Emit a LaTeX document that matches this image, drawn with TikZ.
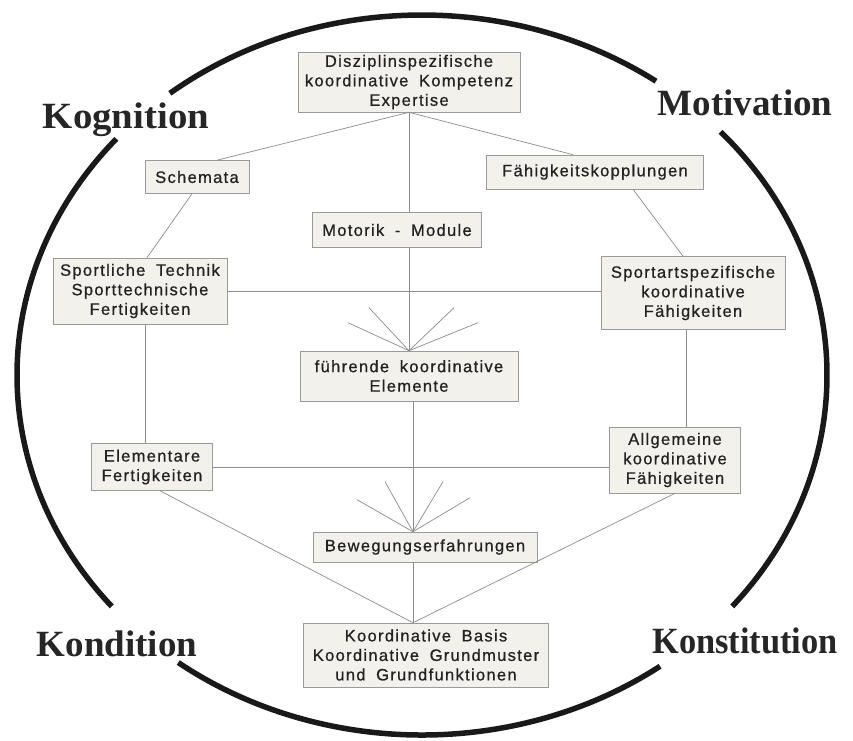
\documentclass[tikz,border=0pt]{standalone}
\usepackage{graphicx}
\usepackage{fontspec}
\newfontfamily\boxfont[LetterSpace=8,WordSpace=1.8,FakeBold=0.7]{Liberation Sans}
\newfontfamily\labfont{Liberation Serif}
\usetikzlibrary{calc}
\definecolor{boxfill}{HTML}{F3F1EC}
\definecolor{boxline}{HTML}{9A9A9A}
\definecolor{ink}{HTML}{222222}
\definecolor{connc}{HTML}{8C8C8C}
\begin{document}
\begin{tikzpicture}[x=1pt,y=-1pt,
 box/.style={draw=boxline, line width=0.6pt, fill=boxfill, inner sep=0pt, align=center,
   font=\boxfont\fontsize{16.5}{19.5}\selectfont, text=ink},
 conn/.style={draw=connc, line width=0.7pt},
 circ/.style={draw=black!90, line width=5.5pt},
 lab/.style={font=\labfont\bfseries\fontsize{37}{40}\selectfont, text=black!85, anchor=base, inner sep=0pt}]
\useasboundingbox[fill=white] (0,0) rectangle (853,740);

% outer circle
\coordinate (cc) at (422,375);
\draw[circ] (cc) ++(128.5:405pt and 360pt) arc[start angle=128.5,end angle=54.7,x radius=405pt,y radius=360pt];
\draw[circ] (cc) ++(139:405pt and 360pt) arc[start angle=139,end angle=220,x radius=405pt,y radius=360pt];
\draw[circ] (cc) ++(233:405pt and 360pt) arc[start angle=233,end angle=306,x radius=405pt,y radius=360pt];
\draw[circ] (cc) ++(-40:405pt and 360pt) arc[start angle=-40,end angle=42.5,x radius=405pt,y radius=360pt];

% labels
\node[lab] (kog) at (126,128) {\scalebox{1.05}[1]{Kognition}};
\node[lab] (mot) at (745,115) {Motivation};
\node[lab] (kond) at (117,656) {Kondition};
\node[lab] (konst) at (745,653) {\scalebox{0.93}[1]{Konstitution}};

% boxes
\node[box, minimum width=222pt, minimum height=60pt] (top) at (409,82) {Disziplinspezifische\\koordinative Kompetenz\\Expertise};
\node[box, minimum width=104pt, minimum height=33pt] (schem) at (197,177) {Schemata};
\node[box, minimum width=217pt, minimum height=34pt] (kopp) at (595,172) {Fähigkeitskopplungen};
\node[box, minimum width=169pt, minimum height=35pt] (motor) at (397,230) {Motorik - Module};
\node[box, minimum width=174pt, minimum height=66pt] (sport) at (140,291) {Sportliche Technik\\Sporttechnische\\Fertigkeiten};
\node[box, minimum width=184pt, minimum height=73pt] (sart) at (693,293) {Sportartspezifische\\koordinative\\Fähigkeiten};
\node[box, minimum width=218pt, minimum height=50pt] (fuehr) at (409,376) {führende koordinative\\Elemente};
\node[box, minimum width=121pt, minimum height=47pt] (elem) at (152,467) {Elementare\\Fertigkeiten};
\node[box, minimum width=131pt, minimum height=66pt] (allg) at (675,460) {Allgemeine\\koordinative\\Fähigkeiten};
\node[box, minimum width=224pt, minimum height=30pt] (bew) at (425,547) {Bewegungserfahrungen};
\node[box, minimum width=245pt, minimum height=64pt] (basis) at (426,655) {Koordinative Basis\\Koordinative Grundmuster\\und Grundfunktionen};

% helper coordinates
\coordinate (bap) at ([xshift=-12pt]bew.north);
\coordinate (kap) at (bap |- basis.north);
\coordinate (fa1) at ($(fuehr.north)+(-61,-28)$);
\coordinate (fa2) at ($(fuehr.north)+(-40,-43)$);
\coordinate (fa3) at ($(fuehr.north)+(45,-43)$);
\coordinate (fa4) at ($(fuehr.north)+(69,-28)$);
\coordinate (fb1) at ($(bap)+(-56,-32)$);
\coordinate (fb2) at ($(bap)+(-28,-50)$);
\coordinate (fb3) at ($(bap)+(30,-50)$);
\coordinate (fb4) at ($(bap)+(57,-34)$);

% connectors
\draw[conn] (top.south) -- ([xshift=20pt]schem.north);
\draw[conn] (top.south) -- ([xshift=-22pt]kopp.north);
\draw[conn] (top.south) -- (top.south |- motor.north);
\draw[conn] (top.south |- motor.south) -- (fuehr.north);
\draw[conn] ([xshift=-5pt]schem.south) -- ([xshift=7pt]sport.north);
\draw[conn] ([xshift=38pt]kopp.south) -- ([xshift=-10pt]sart.north);
\draw[conn] (sport.east) -- (sport.east -| sart.west);
\draw[conn] ([xshift=5pt]sport.south) -- ([xshift=5pt]sport.south |- elem.north);
\draw[conn] ([xshift=-7pt]sart.south) -- ([xshift=-7pt]sart.south |- allg.north);
\draw[conn] (elem.east) -- (elem.east -| allg.west);
\foreach \f in {fa1,fa2,fa3,fa4} \draw[conn] (fuehr.north) -- (\f);
\draw[conn] (bap |- fuehr.south) -- (bap);
\foreach \f in {fb1,fb2,fb3,fb4} \draw[conn] (bap) -- (\f);
\draw[conn] (bap |- bew.south) -- (kap);
\draw[conn] ([xshift=8pt]elem.south) -- (kap);
\draw[conn] (allg.south) -- (kap);
\end{tikzpicture}
\end{document}
